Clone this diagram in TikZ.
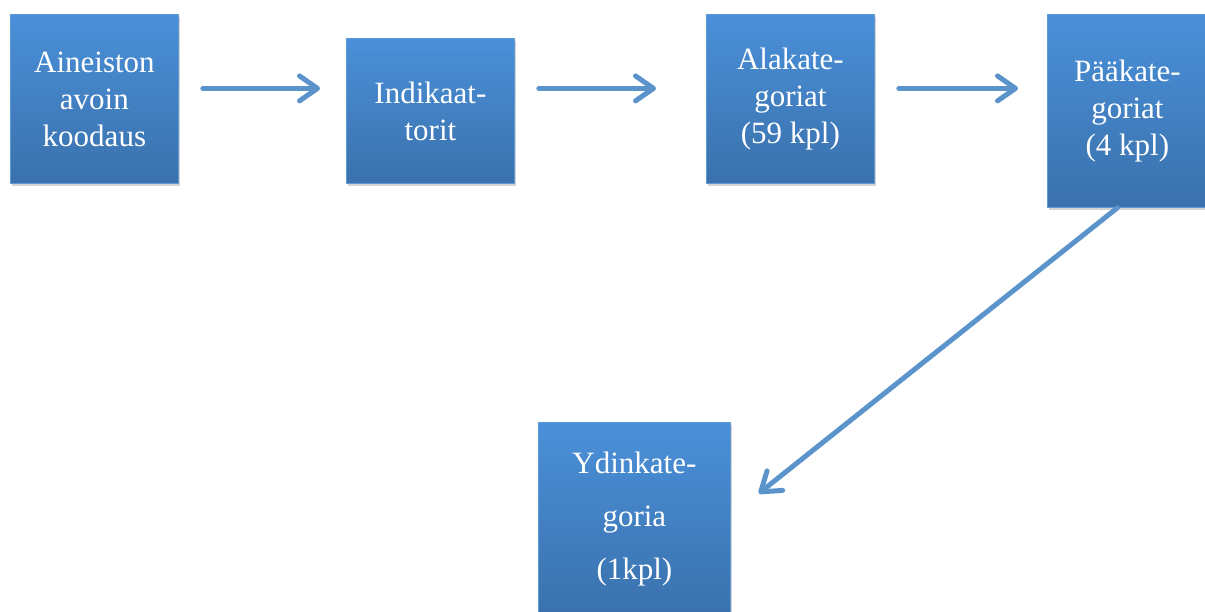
\documentclass[tikz,border=0pt]{standalone}
\usepackage{fontspec}
\setmainfont{Liberation Serif}
\usetikzlibrary{arrows.meta,shadows}
\definecolor{boxtop}{HTML}{4A90D9}
\definecolor{boxbot}{HTML}{3A71AC}
\definecolor{boxedge}{HTML}{5E9BD6}
\definecolor{arrcol}{HTML}{5B94CB}
\begin{document}
\begin{tikzpicture}[x=1pt,y=-1pt,
  box/.style={draw=boxedge, line width=0.8pt, top color=boxtop, bottom color=boxbot,
    text=white, align=center, inner sep=0pt, anchor=north west,
    font=\fontsize{31}{37}\selectfont,
    drop shadow={opacity=0.35, shadow xshift=2pt, shadow yshift=-3pt}},
  arr/.style={draw=arrcol, line width=5pt, line cap=round,
    -{Straight Barb[round,length=18pt,width=25pt]}}]
\useasboundingbox (0,0) rectangle (1205,612);
\clip (0,0) rectangle (1205,612);
\node[box, minimum width=168pt, minimum height=169pt] (b1) at (10,14) {Aineiston\\avoin\\koodaus};
\node[box, minimum width=168pt, minimum height=145pt] (b2) at (346,38) {Indikaat-\\torit};
\node[box, minimum width=168pt, minimum height=169pt] (b3) at (706,14) {Alakate-\\goriat\\(59 kpl)};
\node[box, minimum width=160pt, minimum height=193pt] (b4) at (1047,14) {Pääkate-\\goriat\\(4 kpl)};
\node[box, minimum width=192pt, minimum height=194pt, font=\fontsize{31}{53}\selectfont] (b5) at (538,422) {Ydinkate-\\goria\\(1kpl)};
\draw[arr] ([shift={(24,-10.5)}]b1.east) -- ([shift={(-26,-22.5)}]b2.west);
\draw[arr] ([shift={(24,-22.5)}]b2.east) -- ([shift={(-50,-10.5)}]b3.west);
\draw[arr] ([shift={(24,-10.5)}]b3.east) -- ([shift={(-29,-22.5)}]b4.west);
\draw[arr] ([shift={(-10,0)}]b4.south) -- ([shift={(28,-26)}]b5.east);
\end{tikzpicture}
\end{document}
